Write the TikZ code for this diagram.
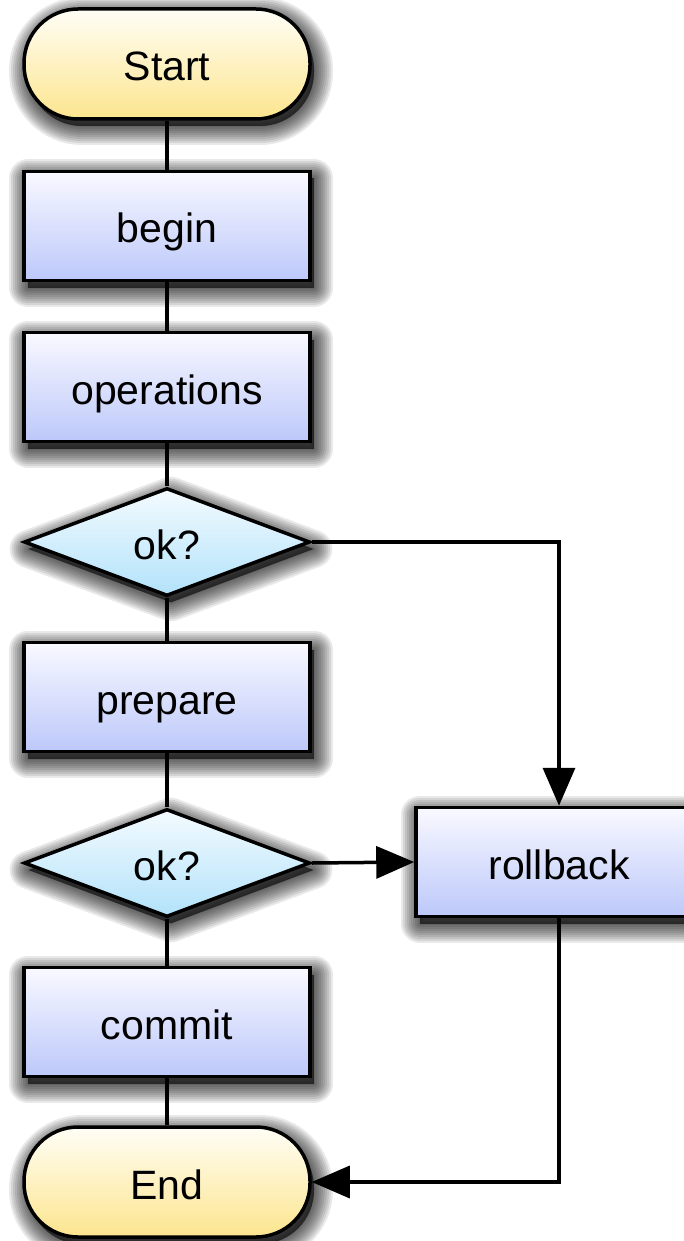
\documentclass[tikz,border=0pt]{standalone}
\usepackage{fontspec}
\setmainfont{Liberation Sans}
\usetikzlibrary{shapes.geometric,arrows.meta,shadows}
\definecolor{ytop}{HTML}{FFFEF6}
\definecolor{ybot}{HTML}{FCE58E}
\definecolor{btop}{HTML}{F9F9FF}
\definecolor{bbot}{HTML}{BCC8FA}
\definecolor{dtop}{HTML}{F4FBFF}
\definecolor{dbot}{HTML}{B2E2FA}
\tikzset{
  sl/.style={general shadow={shadow xshift=4pt, shadow yshift=-7pt, draw=black, fill=black, line width=#1, opacity=0.085, line join=round}},
  softshadow/.style={sl=2pt, sl=6pt, sl=10pt, sl=14pt, sl=18pt, sl=22pt, sl=26pt, sl=30pt, sl=34pt, sl=38pt},
  base/.style={softshadow, draw=black, line width=3.5pt, inner sep=0pt, font=\fontsize{41}{49}\selectfont,
    text height=34pt, text depth=0pt},
  term/.style={base, rectangle, rounded corners=54pt, minimum width=286pt, minimum height=110pt, top color=ytop, bottom color=ybot},
  proc/.style={base, rectangle, minimum width=286pt, minimum height=109pt, top color=btop, bottom color=bbot},
  decide/.style={base, diamond, aspect=2.6, minimum width=286pt, minimum height=108pt, top color=dtop, bottom color=dbot},
  link/.style={line width=3.5pt, draw=black},
  arr/.style={link, -{Triangle[length=38pt,width=32pt]}, line join=miter}
}
\begin{document}
\begin{tikzpicture}[x=1pt,y=-1pt]
\useasboundingbox (0,0) rectangle (684,1241);
\fill[white] (0,0) rectangle (684,1241);
\node[term] (start) at (167,64) {Start};
\node[proc] (begin) at (167,226) {begin};
\node[proc] (ops) at (167,387) {operations};
\node[decide] (ok1) at (167,542) {ok?};
\node[proc] (prep) at (167,697) {prepare};
\node[decide] (ok2) at (167,863) {ok?};
\node[proc] (roll) at (559,862) {rollback};
\node[proc] (commit) at (167,1022) {commit};
\node[term] (end) at (167,1182) {End};
\draw[link] (start) -- (begin);
\draw[link] (begin) -- (ops);
\draw[link] (ops) -- (ok1);
\draw[link] (ok1) -- (prep);
\draw[link] (prep) -- (ok2);
\draw[link] (ok2) -- (commit);
\draw[link] (commit) -- (end);
\draw[arr] (ok1.east) -| (roll.north);
\draw[arr] (ok2.east) -- (roll.west);
\draw[arr] (roll.south) |- (end.east);
\end{tikzpicture}
\end{document}
